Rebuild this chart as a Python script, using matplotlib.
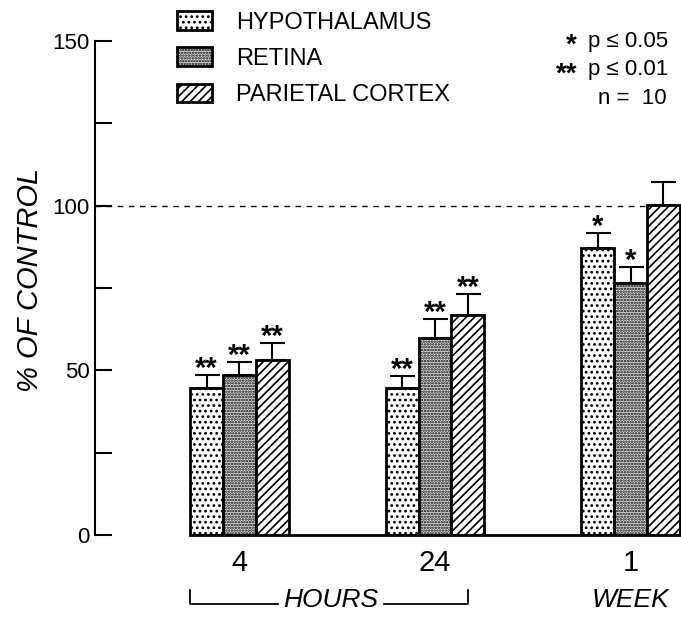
import numpy as np
import matplotlib
matplotlib.use("Agg")
import matplotlib.pyplot as plt
from matplotlib.patches import Patch

plt.rcParams['font.family'] = ['Liberation Sans', 'DejaVu Sans']
plt.rcParams['hatch.linewidth'] = 1.2

# data
groups = ['4', '24', '1']
tissues = ['HYPOTHALAMUS', 'RETINA', 'PARIETAL CORTEX']
hypothalamus = [44.6, 44.6, 87.2]
retina = [48.6, 59.8, 76.5]
parietal = [53.1, 66.8, 100.2]
hypothalamus_err = [4.0, 3.7, 4.5]
retina_err = [3.9, 5.8, 4.9]
parietal_err = [5.2, 6.4, 7.1]
hypothalamus_sig = ['**', '**', '*']
retina_sig = ['**', '**', '*']
parietal_sig = ['**', '**', '']

values = [hypothalamus, retina, parietal]
errors = [hypothalamus_err, retina_err, parietal_err]
signif = [hypothalamus_sig, retina_sig, parietal_sig]
hatches = ['...', '......', '////']
faces = ['white', '#e2e2e2', 'white']

W, H = 681, 624
fig = plt.figure(figsize=(W / 100, H / 100), dpi=100)
ax = fig.add_axes([95 / W, (H - 535) / H, (W - 95) / W, 494 / H])

x = np.arange(len(groups))
bw = 0.168
for i in range(3):
    xs = x + (i - 1) * bw
    ax.bar(xs, values[i], bw, facecolor=faces[i], edgecolor='black',
           linewidth=2.0, hatch=hatches[i], zorder=2)
    ax.errorbar(xs, values[i], yerr=[np.zeros(3), errors[i]], fmt='none',
                ecolor='black', elinewidth=1.5, capsize=9, capthick=1.5, zorder=1)
    for xx, v, e, s in zip(xs, values[i], errors[i], signif[i]):
        if s:
            ax.annotate(s, (xx, v + e), xytext=(0, -1.5), textcoords='offset points',
                        ha='center', va='baseline', fontsize=21, fontweight='bold')

ax.axhline(100, color='black', linestyle=(0, (4, 4)), linewidth=1.0, zorder=0)

ax.set_ylim(0, 150)
ax.set_xlim(-0.739, 2.258)
ax.set_yticks([0, 50, 100, 150])
ax.set_yticks([25, 75, 125], minor=True)
ax.tick_params(axis='y', which='both', direction='in', length=12, width=1.5,
               labelsize=16, pad=4)
ax.set_xticks(x)
ax.set_xticklabels(groups, fontsize=21)
ax.tick_params(axis='x', length=0, pad=10)
for s in ['top', 'right']:
    ax.spines[s].set_visible(False)
ax.spines['left'].set_linewidth(1.5)
ax.spines['bottom'].set_linewidth(2.0)
ax.spines['bottom'].set_bounds(x[0] - 1.5 * bw, 2.258)

fig.text(30 / W, 1 - 280 / H, '% OF CONTROL', rotation=90, fontsize=21,
         style='italic', ha='center', va='center')

# time bracket under the groups
fy = 1 - 604 / H
fig.add_artist(plt.Line2D([190 / W, 190 / W, 278 / W], [1 - 590 / H, fy, fy],
                          color='black', linewidth=1.3))
fig.add_artist(plt.Line2D([384 / W, 468 / W, 468 / W], [fy, fy, 1 - 590 / H],
                          color='black', linewidth=1.3))
fig.text(331 / W, 1 - 600 / H, 'HOURS', fontsize=19, style='italic',
         ha='center', va='center')
fig.text(631 / W, 1 - 600 / H, 'WEEK', fontsize=19, style='italic',
         ha='center', va='center')

handles = [Patch(facecolor=f, edgecolor='black', linewidth=2.0, hatch=h)
           for f, h in zip(faces, hatches)]
fig.legend(handles, tissues, loc='upper left', bbox_to_anchor=(177 / W, 1 - 11 / H),
           frameon=False, fontsize=17, handlelength=1.5, handleheight=0.85,
           handletextpad=1.0, labelspacing=0.58, borderpad=0, borderaxespad=0)

fig.text(577 / W, 1 - 46 / H, '*', fontsize=20, fontweight='bold', ha='right', va='center')
fig.text(577 / W, 1 - 75 / H, '**', fontsize=20, fontweight='bold', ha='right', va='center')
fig.text(588 / W, 1 - 41 / H, 'p \u2264 0.05', fontsize=16, ha='left', va='center')
fig.text(588 / W, 1 - 70 / H, 'p \u2264 0.01', fontsize=16, ha='left', va='center')
fig.text(598 / W, 1 - 98 / H, 'n =  10', fontsize=16, ha='left', va='center')

fig.savefig('out.png', dpi=100)
